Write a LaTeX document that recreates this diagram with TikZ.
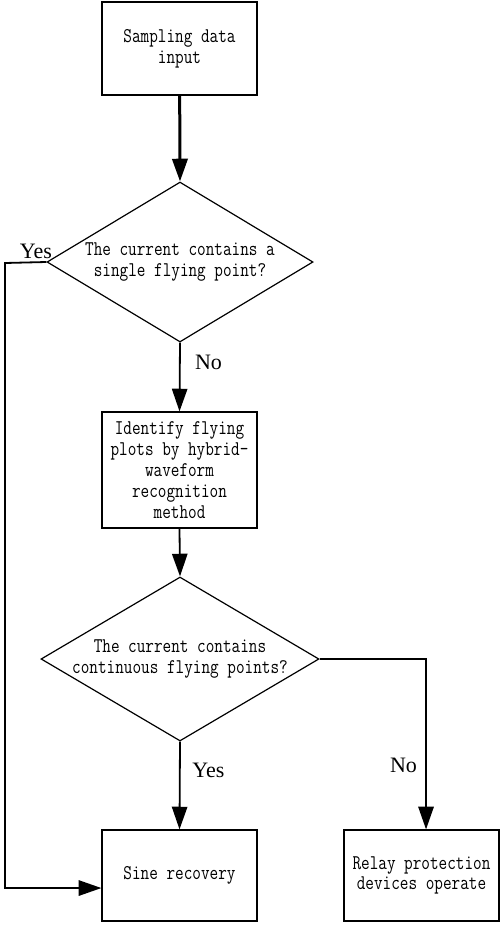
\documentclass[tikz,border=0pt]{standalone}
\usepackage{fontspec}
\setmainfont{Liberation Serif}
\newfontfamily\boxfont[FakeStretch=0.8]{Latin Modern Mono}
\newcommand\myboxfont{\boxfont\fontsize{15.7pt}{15.6pt}\selectfont}
\usetikzlibrary{arrows.meta,shapes.geometric}
\begin{document}
\begin{tikzpicture}[x=0.75pt,y=-0.75pt,
  stepbox/.style={draw,line width=0.9pt,minimum width=116.25pt,inner sep=0pt,align=center,
    font=\myboxfont},
  decision/.style={draw,diamond,line width=0.9pt,inner sep=0pt},
  dtext/.style={align=center,font=\myboxfont},
  conn/.style={line width=1.35pt,-{Triangle[length=17pt,width=11.5pt]}},
  lbl/.style={font=\fontsize{16.5pt}{18pt}\selectfont,inner sep=0pt}]
\useasboundingbox (0,0) rectangle (500,935);
\node[stepbox,minimum height=69.75pt] (b1) at (179.5,48.5) {Sampling data\\input};
\node[decision,minimum width=199.5pt,minimum height=120pt,
  label={[dtext]center:The current contains a\\single flying point?}] (d1) at (180,262) {};
\node[stepbox,minimum height=87pt] (b2) at (179.5,470) {Identify flying\\plots by hybrid-\\waveform\\recognition\\method};
\node[decision,minimum width=208.5pt,minimum height=123pt,
  label={[dtext]center:The current contains\\continuous flying points?}] (d2) at (180,659) {};
\node[stepbox,minimum height=68.25pt] (sine) at (179.5,875.5) {Sine recovery};
\node[stepbox,minimum height=68.25pt] (relay) at (421.5,875.5) {Relay protection\\devices operate};
\coordinate (c1) at (5,263);
\node[lbl] (yes1) at (36,251.5) {Yes};
\node[lbl] (no1) at (208.5,362.5) {No};
\node[lbl] (yes2) at (208.5,770.5) {Yes};
\node[lbl] (no2) at (403.5,765.5) {No};
\draw[conn,line width=2.25pt] (b1) -- (d1.north);
\draw[conn] (d1.south) -- (b2.north);
\draw[conn] (b2.south) -- (d2.north);
\draw[conn] (d2.south) -- (sine.north);
\draw[conn] (d2.east) -| ([xshift=3.4pt]relay.north);
\draw[conn] (d1.west) -- (c1) |- ([yshift=-9.4pt]sine.west);
\end{tikzpicture}
\end{document}
